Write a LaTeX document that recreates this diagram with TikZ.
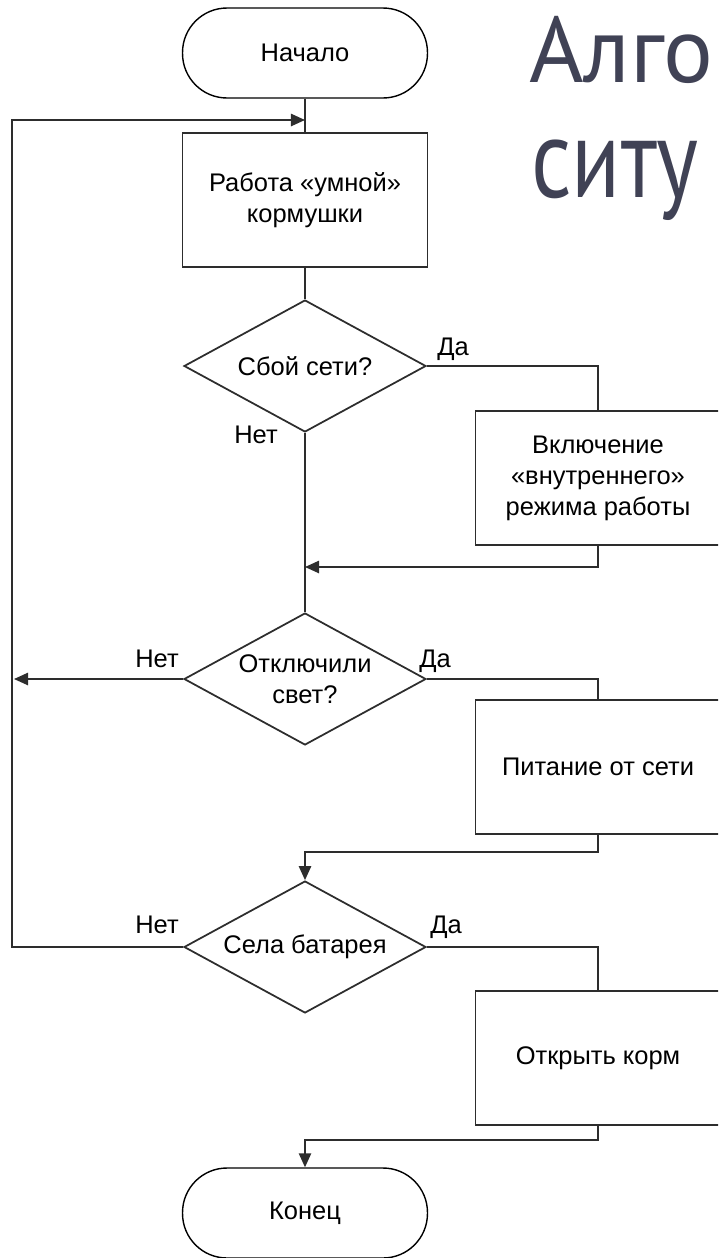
\documentclass[tikz,border=0pt]{standalone}
\usepackage{fontspec}
\setmainfont{Liberation Sans}
\newfontfamily\titlefont{PT Sans}
\usepackage{graphicx}
\usepackage{tikz}
\usetikzlibrary{arrows.meta,shapes.geometric,positioning}
\definecolor{fctitle}{RGB}{64,66,85}
\definecolor{fcline}{RGB}{45,45,45}
\newcommand{\fcfont}{\fontsize{14.5}{17.6}\selectfont}
\tikzstyle{terminal} = [rectangle, rounded corners=0.89cm, minimum width=4.9cm, minimum height=1.8cm, text centered, draw=black, line width=0.8pt, font=\fcfont]
\tikzstyle{process} = [rectangle, minimum width=4.9cm, minimum height=2.68cm, align=center, draw=fcline, line width=1pt, font=\fcfont]
\tikzstyle{decision} = [diamond, aspect=1.83, minimum width=4.84cm, minimum height=2.64cm, inner sep=0pt, align=center, draw=fcline, line width=1pt, font=\fcfont]
\tikzstyle{answer} = [inner sep=0pt, anchor=base west, font=\fcfont]
\tikzstyle{line} = [draw=fcline, line width=1pt]
\tikzstyle{arrow} = [line, -{Triangle[length=8pt,width=7pt]}]

\begin{document}
\begin{tikzpicture}[x=0.02cm, y=-0.02cm]
\useasboundingbox (0,0) rectangle (718,1258);
\clip (0,0) rectangle (718,1258);

% title (cut by the slide edge)
\node (title1) [inner sep=0pt, anchor=base west, text=fctitle, font=\titlefont\fontsize{53}{58}\selectfont] at (529,82) {Алго};
\node (title2) [inner sep=0pt, anchor=base west, text=fctitle, font=\titlefont\fontsize{64}{70}\selectfont] at (531,197) {\scalebox{0.8}[1]{ситу}};

% main column
\node (start) [terminal] at (305,53) {Начало};
\node (work) [process] at (305,200) {Работа «умной»\\кормушки};
\node (net) [decision] at (305,366) {Сбой сети?};
\node (light) [decision] at (305,679) {Отключили\\свет?};
\node (battery) [decision] at (305,947) {Села батарея};
\node (stop) [terminal] at (305,1213) {Конец};

% right column
\node (inner) [process] at (598,478) {Включение\\«внутреннего»\\режима работы};
\node (supply) [process] at (598,767) {Питание от сети};
\node (feed) [process] at (598,1058) {Открыть корм};

% answers
\node (netyes) [answer] at (437,355) {Да};
\node (netno) [answer] at (234,443) {Нет};
\node (lightno) [answer] at (135,667) {Нет};
\node (lightyes) [answer] at (419,667) {Да};
\node (batno) [answer] at (135,933) {Нет};
\node (batyes) [answer] at (430,933) {Да};

% junctions
\coordinate (loopin) at (305,120);
\coordinate (loopleft) at (12,120);
\coordinate (batleft) at (12,947);
\coordinate (lightleft) at (14,679);
\coordinate (innerback) at (305,567);
\coordinate (supplyback) at (305,852);
\coordinate (feedback) at (305,1140);

\draw[line] (start) -- (work);
\draw[line] (work) -- (net);
\draw[line] (net.east) -| (inner.north);
\draw[line] (net.south) -- (light.north);
\draw[arrow] (inner.south) |- (innerback);
\draw[arrow] (light.west) -- (lightleft);
\draw[line] (light.east) -| (supply.north);
\draw[arrow] (supply.south) |- (supplyback) -- (battery.north);
\draw[arrow] (battery.west) -- (batleft) -- (loopleft) -- (loopin);
\draw[line] (battery.east) -| (feed.north);
\draw[arrow] (feed.south) |- (feedback) -- (stop.north);
\end{tikzpicture}
\end{document}
